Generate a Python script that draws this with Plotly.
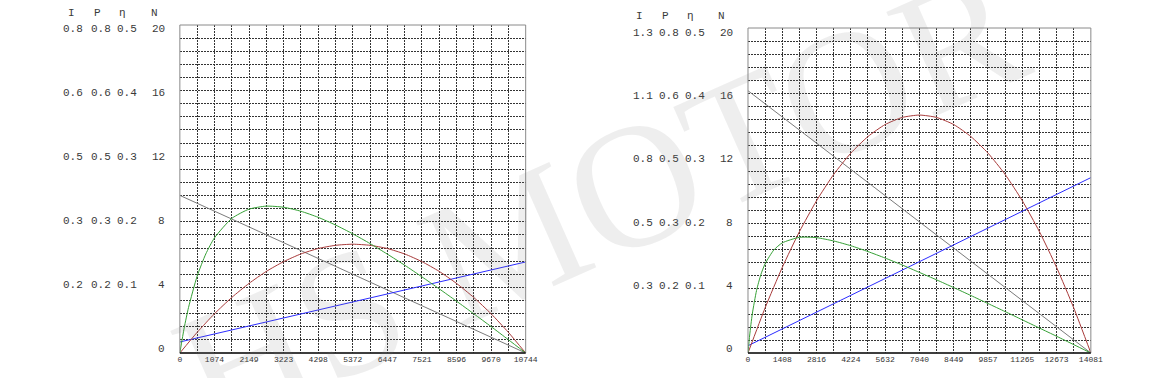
import plotly.graph_objects as go

W, H = 1173, 378

# ---------------- data: left chart ----------------
L_xmax = 10744
L_ticks = [0, 1074, 2149, 3223, 4298, 5372, 6447, 7521, 8596, 9670, 10744]
L_N_x = [0, 10744]
L_N = [9.85, 0]
L_I_x = [0, 10744]
L_I = [0.69, 5.69]
L_P_x = [0, 537, 1074, 1612, 2149, 2686, 3223, 3760, 4298, 4835, 5372,
         5909, 6446, 6984, 7521, 8058, 8595, 9132, 9670, 10207, 10744]
L_P = [0, 1.29, 2.45, 3.47, 4.35, 5.10, 5.71, 6.19, 6.53, 6.73, 6.80,
       6.73, 6.53, 6.19, 5.71, 5.10, 4.35, 3.47, 2.45, 1.29, 0]
L_E_x = [0, 134, 269, 537, 806, 1074, 1612, 2149, 2686, 3223, 3760, 4298,
         4835, 5372, 5909, 6446, 6984, 7521, 8058, 8595, 9132, 9670, 10207, 10744]
L_E = [0, 1.56, 2.84, 4.80, 6.19, 7.19, 8.41, 8.99, 9.18, 9.11, 8.86, 8.48,
       8.00, 7.45, 6.84, 6.18, 5.49, 4.76, 4.01, 3.24, 2.45, 1.65, 0.83, 0]
L_lab_I = ["0.8", "0.6", "0.5", "0.3", "0.2", ""]
L_lab_P = ["0.8", "0.6", "0.5", "0.3", "0.2", ""]
L_lab_E = ["0.5", "0.4", "0.3", "0.2", "0.1", ""]
L_lab_N = ["20", "16", "12", "8", "4", "0"]

# ---------------- data: right chart ----------------
R_xmax = 14081
R_ticks = [0, 1408, 2816, 4224, 5632, 7040, 8449, 9857, 11265, 12673, 14081]
R_N_x = [0, 14081]
R_N = [16.6, 0]
R_I_x = [0, 14081]
R_I = [0.46, 11.1]
R_P_x = [0, 704, 1408, 2112, 2816, 3520, 4224, 4928, 5632, 6336, 7040,
         7745, 8449, 9153, 9857, 10561, 11265, 11969, 12673, 13377, 14081]
R_P = [0, 2.86, 5.42, 7.68, 9.64, 11.30, 12.65, 13.70, 14.46, 14.91, 15.06,
       14.91, 14.46, 13.70, 12.65, 11.30, 9.64, 7.68, 5.42, 2.86, 0]
R_E_x = [0, 70, 176, 352, 528, 704, 1056, 1408, 2112, 2816, 3520, 4224, 4928,
         5632, 6336, 7040, 7745, 8449, 9153, 9857, 10561, 11265, 11969, 12673,
         13377, 14081]
R_E = [0, 1.14, 2.46, 3.96, 4.96, 5.65, 6.51, 6.97, 7.32, 7.30, 7.09, 6.79,
       6.42, 6.01, 5.57, 5.10, 4.63, 4.14, 3.64, 3.13, 2.62, 2.10, 1.58, 1.06,
       0.53, 0]
R_lab_I = ["1.3", "1.1", "0.8", "0.5", "0.3", ""]
R_lab_P = ["0.8", "0.6", "0.5", "0.3", "0.2", ""]
R_lab_E = ["0.5", "0.4", "0.3", "0.2", "0.1", ""]
R_lab_N = ["20", "16", "12", "8", "4", "0"]

lab_vals = [20, 16, 12, 8, 4, 0]
headers = ["I", "P", "η", "N"]

C_N, C_I, C_P, C_E = "#7a7a7a", "#2b2bff", "#a83a3a", "#35a035"
GRID = "#333333"
GDASH = "2px,1px"
FONT = "Liberation Mono"
TXT = "#3a3a3a"

fig = go.Figure()


def px_x(p):
    return p / W


def px_y(p):
    return 1 - p / H


panels = [
    dict(ax="", xmax=L_xmax, ticks=L_ticks, ymax=20.5, box=(180, 530, 25, 353),
         N=(L_N_x, L_N), I=(L_I_x, L_I), P=(L_P_x, L_P), E=(L_E_x, L_E),
         labs=(L_lab_I, L_lab_P, L_lab_E, L_lab_N),
         colx=(60, 88, 114, 167), hdrx=(70, 97, 122, 154), hdry=13, lab_dy=4),
    dict(ax="2", xmax=R_xmax, ticks=R_ticks, ymax=20.57, box=(755, 1102, 28, 353),
         N=(R_N_x, R_N), I=(R_I_x, R_I), P=(R_P_x, R_P), E=(R_E_x, R_E),
         labs=(R_lab_I, R_lab_P, R_lab_E, R_lab_N),
         colx=(637, 663, 689, 742), hdrx=(645, 672, 697, 728), hdry=16, lab_dy=4),
]

for pn in panels:
    a = pn["ax"]
    xa, ya = "x" + a, "y" + a
    for key, col in (("N", C_N), ("I", C_I), ("P", C_P), ("E", C_E)):
        xs, ys = pn[key]
        fig.add_trace(go.Scatter(x=xs, y=ys, mode="lines", xaxis=xa, yaxis=ya,
                                 line=dict(color=col, width=1, shape="spline",
                                           smoothing=0.6),
                                 showlegend=False, hoverinfo="skip"))
    x0, x1, y0, y1 = pn["box"]
    # grid: 20 columns (labels every 2nd), 25 rows
    xv, xt = [], []
    for k in range(21):
        xv.append(pn["xmax"] * k / 20)
        xt.append(str(pn["ticks"][k // 2]) if k % 2 == 0 else "")
    yv = [pn["ymax"] * k / 25 for k in range(26)]
    fig.layout["xaxis" + a] = dict(
        domain=[px_x(x0), px_x(x1)], range=[0, pn["xmax"]], anchor=ya,
        tickmode="array", tickvals=xv, ticktext=xt,
        ticks="", showline=False, zeroline=False, showgrid=True,
        gridcolor=GRID, griddash=GDASH, gridwidth=1,
        tickfont=dict(family=FONT, size=8, color="#333"),
        fixedrange=True,
    )
    fig.layout["yaxis" + a] = dict(
        domain=[px_y(y1), px_y(y0)], range=[0, pn["ymax"]], anchor=xa,
        tickmode="array", tickvals=yv, showticklabels=False,
        ticks="", showline=False, zeroline=False, showgrid=True,
        gridcolor=GRID, griddash=GDASH, gridwidth=1, fixedrange=True,
    )
    # frame
    fig.add_shape(type="rect", xref=xa + " domain", yref=ya + " domain",
                  x0=0, x1=1, y0=0, y1=1, line=dict(color="#8a8a8a", width=1))
    fig.add_shape(type="line", xref=xa + " domain", yref=ya + " domain",
                  x0=0, x1=1, y0=0, y1=0, line=dict(color="#111", width=1.5))
    # headers
    for hx, ht in zip(pn["hdrx"], headers):
        fig.add_annotation(x=px_x(hx), y=px_y(pn["hdry"]), xref="paper", yref="paper",
                           text=ht, showarrow=False, xanchor="center", yanchor="middle",
                           font=dict(family=FONT, size=11, color=TXT))
    # axis value columns
    li, lp, le, ln = pn["labs"]
    cx = pn["colx"]
    for i, v in enumerate(lab_vals):
        for col_i, lst in enumerate((li, lp, le)):
            if lst[i]:
                fig.add_annotation(x=px_x(cx[col_i]), y=v, xref="paper", yref=ya,
                                   yshift=pn["lab_dy"], text=lst[i], showarrow=False,
                                   xanchor="left", yanchor="middle",
                                   font=dict(family=FONT, size=11, color=TXT))
        fig.add_annotation(x=px_x(cx[3]), y=v, xref="paper", yref=ya,
                           yshift=pn["lab_dy"], text=ln[i], showarrow=False,
                           xanchor="right", yanchor="middle",
                           font=dict(family=FONT, size=11, color=TXT))

# watermark
fig.add_annotation(x=px_x(605), y=px_y(200), xref="paper", yref="paper",
                   text="HS MOTOR", showarrow=False, textangle=-24,
                   font=dict(family="Liberation Serif", size=176,
                             color="rgba(120,120,120,0.13)"))

fig.update_layout(width=W, height=H, autosize=False,
                  margin=dict(l=0, r=0, t=0, b=0),
                  paper_bgcolor="white", plot_bgcolor="white")

fig.write_html("out.html", config={"displayModeBar": False})
